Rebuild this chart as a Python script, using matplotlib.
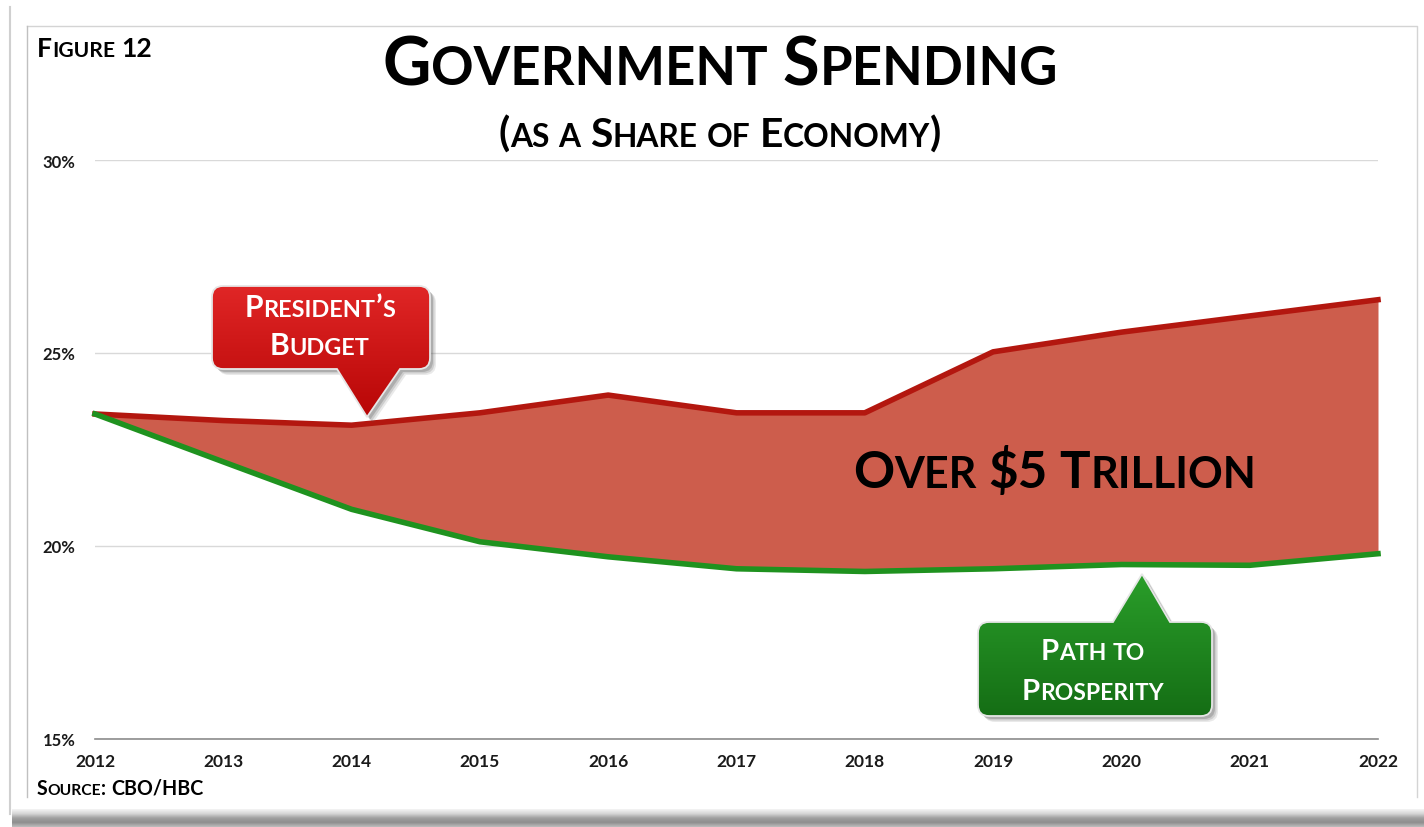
import matplotlib
matplotlib.use('Agg')
import matplotlib.pyplot as plt
import numpy as np
from matplotlib.path import Path
from matplotlib.patches import PathPatch
import matplotlib.colors as mcolors

FONT = 'Lato'

# ---------------- data ----------------
years = [2012, 2013, 2014, 2015, 2016, 2017, 2018, 2019, 2020, 2021, 2022]
president_budget = [23.42, 23.25, 23.13, 23.45, 23.91, 23.45, 23.45, 25.03, 25.54, 25.96, 26.38]
path_to_prosperity = [23.42, 22.18, 20.95, 20.11, 19.72, 19.41, 19.34, 19.41, 19.52, 19.50, 19.80]
y_ticks = [15, 20, 25, 30]
y_tick_labels = ['15%', '20%', '25%', '30%']
x_tick_labels = [str(y) for y in years]

W, H = 1424, 828
fig = plt.figure(figsize=(W / 100, H / 100), dpi=100)
fig.patch.set_facecolor('white')

# ---------------- main chart ----------------
ax = fig.add_axes([95 / W, 1 - 740 / H, (1378 - 95) / W, (740 - 161) / H])
ax.fill_between(years, path_to_prosperity, president_budget, color='#CD5D4C', lw=0, zorder=2)
ax.plot(years, president_budget, color='#B3170F', lw=4.0, zorder=3, clip_on=False,
        solid_joinstyle='round')
ax.plot(years, path_to_prosperity, color='#1F921F', lw=4.0, zorder=3, clip_on=False,
        solid_joinstyle='round')
ax.set_xlim(2012, 2022)
ax.set_ylim(15, 30)
ax.set_xticks(years)
ax.set_xticklabels(x_tick_labels)
ax.set_yticks(y_ticks)
ax.set_yticklabels(y_tick_labels)
ax.grid(axis='y', color='#d9d9d9', lw=1)
ax.set_axisbelow(True)
for s in ['top', 'right', 'left']:
    ax.spines[s].set_visible(False)
ax.spines['bottom'].set_color('#8c8c8c')
ax.spines['bottom'].set_linewidth(1.2)
ax.tick_params(axis='both', length=0, colors='#1a1a1a')
ax.tick_params(axis='x', pad=10, labelsize=12.5)
ax.tick_params(axis='y', pad=14, labelsize=12)
for lab in ax.get_xticklabels() + ax.get_yticklabels():
    lab.set_fontfamily(FONT)
    lab.set_fontweight('bold')
ax.set_facecolor('none')

# ---------------- overlay (pixel coordinates, y downward) ----------------
ov = fig.add_axes([0, 0, 1, 1], zorder=5)
ov.set_xlim(0, W)
ov.set_ylim(H, 0)
ov.axis('off')
renderer = fig.canvas.get_renderer()


def grad_image(c_top, c_bot, n=64):
    a = np.array(mcolors.to_rgb(c_top))
    b = np.array(mcolors.to_rgb(c_bot))
    t = np.linspace(0, 1, n)[:, None]
    return (a * (1 - t) + b * t)[:, None, :]


# frame / card
ov.plot([10, 10], [8, 815], color='#d0d0d0', lw=1.5)
ov.plot([27, 1417, 1417], [27, 27, 798], color='#d4d4d4', lw=1)
ov.plot([27, 27], [27, 798], color='#c0c0c0', lw=1)
band = np.array([mcolors.to_rgb(c) for c in ['#f4f4f4', '#d6d6d6', '#a0a0a0', '#8e8e8e', '#bcbcbc']])
tt = np.linspace(0, 1, 40)
band_img = np.stack([np.interp(tt, np.linspace(0, 1, len(band)), band[:, k]) for k in range(3)], axis=1)[:, None, :]
ov.imshow(band_img, extent=(12, W, 828, 810), aspect='auto', interpolation='bilinear', zorder=1)


# callouts
def callout_path(x0, x1, top, bot, r, pointer, pl, pr, tip):
    verts, codes = [], []

    def add(p, c):
        verts.append(p)
        codes.append(c)
    add((x0 + r, top), Path.MOVETO)
    if pointer == 'top':
        add((pl, top), Path.LINETO)
        add(tip, Path.LINETO)
        add((pr, top), Path.LINETO)
    add((x1 - r, top), Path.LINETO)
    add((x1, top), Path.CURVE3)
    add((x1, top + r), Path.CURVE3)
    add((x1, bot - r), Path.LINETO)
    add((x1, bot), Path.CURVE3)
    add((x1 - r, bot), Path.CURVE3)
    if pointer == 'bottom':
        add((pr, bot), Path.LINETO)
        add(tip, Path.LINETO)
        add((pl, bot), Path.LINETO)
    add((x0 + r, bot), Path.LINETO)
    add((x0, bot), Path.CURVE3)
    add((x0, bot - r), Path.CURVE3)
    add((x0, top + r), Path.LINETO)
    add((x0, top), Path.CURVE3)
    add((x0 + r, top), Path.CURVE3)
    add((x0 + r, top), Path.CLOSEPOLY)
    return Path(verts, codes)


def draw_callout(x0, x1, top, bot, pointer, pl, pr, tip, c_top, c_bot):
    p = callout_path(x0, x1, top, bot, 11, pointer, pl, pr, tip)
    for k, al in [(6, 0.12), (4.5, 0.18), (3, 0.25)]:
        sp = Path(p.vertices + np.array([k, k]), p.codes)
        ov.add_patch(PathPatch(sp, facecolor='#505050', edgecolor='none', alpha=al, zorder=2))
    face = PathPatch(p, facecolor='none', edgecolor='none', zorder=3)
    ov.add_patch(face)
    ymin = min(top, tip[1])
    ymax = max(bot, tip[1])
    im = ov.imshow(grad_image(c_top, c_bot), extent=(x0, x1, ymax, ymin), aspect='auto',
                   interpolation='bilinear', zorder=3)
    im.set_clip_path(face)
    ov.add_patch(PathPatch(p, facecolor='none', edgecolor='#e6e6e6', lw=1.3, zorder=4))


draw_callout(212, 430, 287, 370, 'bottom', 337, 400, (367, 418), '#e02626', '#b80606')
draw_callout(978, 1212, 623, 717, 'top', 1113, 1170, (1142, 575), '#2a9e2a', '#156e15')

ov.set_xlim(0, W)
ov.set_ylim(H, 0)


# small caps text helper
def sc_tokens(s):
    tokens = []
    for ch in s:
        if ch == ' ':
            kind = 'space'
        elif ch.islower():
            kind = 'small'
        else:
            kind = 'big'
        c2 = ch.upper() if kind == 'small' else ch
        if tokens and tokens[-1][1] == kind:
            tokens[-1][0] += c2
        else:
            tokens.append([c2, kind])
    return tokens


def smallcaps(x, y, s, size=None, width=None, ratio=0.78, ha='left', color='black'):
    tokens = sc_tokens(s)

    def build(sz):
        arts, widths = [], []
        for txt, kind in tokens:
            if kind == 'space':
                arts.append(None)
                widths.append(len(txt) * sz * 100 / 72 * 0.23)
            else:
                fs = sz if kind == 'big' else sz * ratio
                t = ov.text(0, y, txt, fontsize=fs, fontfamily=FONT, fontweight='bold',
                            color=color, va='baseline', ha='left', zorder=6)
                arts.append(t)
                widths.append(t.get_window_extent(renderer).width)
        return arts, widths

    if size is None:
        arts, widths = build(40)
        for a in arts:
            if a is not None:
                a.remove()
        size = 40 * width / sum(widths)
    arts, widths = build(size)
    total = sum(widths)
    if ha == 'center':
        cur = x - total / 2
    elif ha == 'right':
        cur = x - total
    else:
        cur = x
    for a, w in zip(arts, widths):
        if a is not None:
            a.set_x(cur)
        cur += w
    return size


smallcaps(720, 85, 'Government Spending', width=675, ratio=0.79, ha='center')
smallcaps(720, 147, '(as a Share of Economy)', width=444, ratio=0.78, ha='center')
smallcaps(37, 57, 'Figure 12', width=115, ratio=0.8)
smallcaps(37, 795, 'Source: CBO/HBC', width=166, ratio=0.8)
s1 = smallcaps(320, 317, 'President\u2019s', width=150, ratio=0.78, ha='center', color='white')
smallcaps(319, 355, 'Budget', size=s1, ratio=0.78, ha='center', color='white')
s2 = smallcaps(1093, 700, 'Prosperity', width=141, ratio=0.78, ha='center', color='white')
smallcaps(1093, 660, 'Path to', size=s2, ratio=0.78, ha='center', color='white')
smallcaps(853, 488, 'Over $5 Trillion', width=402, ratio=0.84)

fig.savefig('out.png', dpi=100)
